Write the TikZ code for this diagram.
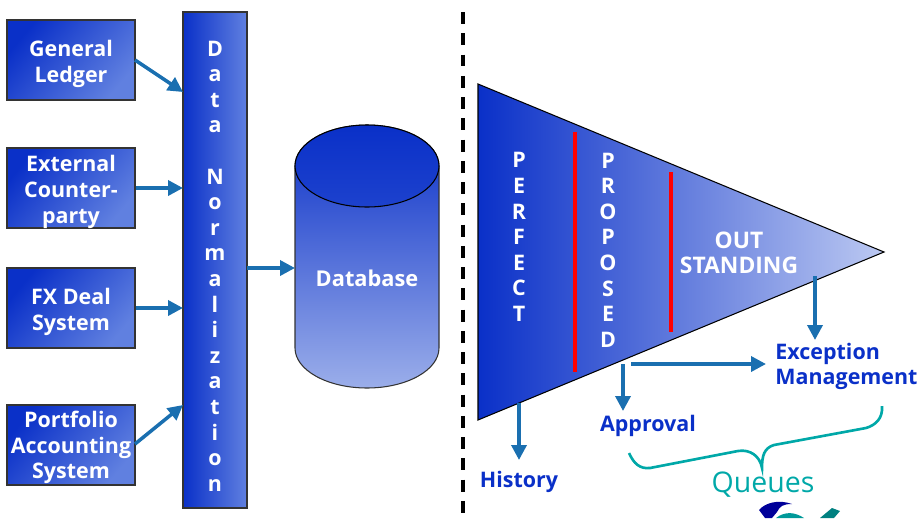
\documentclass[tikz,border=0pt]{standalone}
\usepackage{fontspec}
\setmainfont{Open Sans}
\usetikzlibrary{arrows.meta}
\definecolor{bluedark}{HTML}{0A30C8}
\definecolor{bluemid}{HTML}{6080E0}
\definecolor{bluetri}{HTML}{7A90E2}
\definecolor{bluepale}{HTML}{BCC9F2}
\definecolor{bluebase}{HTML}{9BAEEA}
\definecolor{arrowblue}{HTML}{1A6FB0}
\definecolor{queueteal}{HTML}{00A8A8}
\tikzset{
    srcbox/.style={draw=black!80, line width=0.6pt, left color=bluedark, middle color=bluemid!96!bluedark, right color=bluemid, shading angle=50,
        minimum width=128*0.02cm, minimum height=80*0.02cm, inner sep=0pt},
    srclabel/.style={yshift=-2.3pt, inner sep=0pt, align=center, text=white, font=\bfseries\fontsize{12.2}{14.6}\selectfont},
    lettercol/.style={inner sep=0pt, align=center, text=white, font=\bfseries\fontsize{12.2}{14.57}\selectfont},
    whitelabel/.style={inner sep=0pt, align=center, text=white, font=\bfseries\fontsize{12.4}{14.4}\selectfont},
    bluelabel/.style={inner sep=0pt, align=left, text=bluedark, font=\bfseries\fontsize{12.2}{14.4}\selectfont},
    flow/.style={draw=arrowblue, line width=2pt, -{Triangle[length=8.5pt,width=8.5pt]}},
}
\begin{document}
\begin{tikzpicture}[x=0.02cm, y=-0.02cm]
    \useasboundingbox (0,0) rectangle (920,518);
    % left column
    \node[srcbox] (GL) at (71,60) {};
    \node[srclabel] at (GL) {General\\Ledger};
    \node[srcbox] (EC) at (71,188) {};
    \node[srclabel] at (EC) {External\\Counter-\\party};
    \node[srcbox] (FX) at (71,308) {};
    \node[srclabel] at (FX) {FX Deal\\System};
    \node[srcbox] (PA) at (71,445) {};
    \node[srclabel] at (71,443.5) {Portfolio\\Accounting\\System};
    \node[srcbox, minimum width=64*0.02cm, minimum height=496*0.02cm, shading angle=90] (DN) at (215,260) {};
    \node[lettercol] at (215,266) {D\\a\\t\\a\\[14.57pt]N\\o\\r\\m\\a\\l\\i\\z\\a\\t\\i\\o\\n};
    \coordinate (DNa) at (183,92);
    \coordinate (DNb) at (183,188);
    \coordinate (DNc) at (183,308);
    \coordinate (DNd) at (183,405);
    \draw[flow] (135,60) -- (DNa);
    \draw[flow] (EC.east) -- (DNb);
    \draw[flow] (FX.east) -- (DNc);
    \draw[flow] (135,444) -- (DNd);
    % database
    \shade[top color=bluedark, bottom color=bluebase, draw=black!80, line width=0.6pt]
        (295,166) -- (295,348) arc[start angle=180, end angle=0, x radius=72, y radius=40] -- (439,166)
        arc[start angle=0, end angle=-180, x radius=72, y radius=41] -- cycle;
    \shade[top color=bluedark, bottom color=bluedark!78!bluemid, draw=black, line width=0.6pt]
        (367,166) ellipse[x radius=72, y radius=41];
    \node[whitelabel] (DB) at (367,278) {Database};
    \coordinate (DBw) at (295,268);
    \draw[flow] (247,268) -- (DBw);
    % divider
    \draw[black, line width=2pt, dash pattern=on 6.8pt off 5.3pt] (463,12) -- (463,518);
    % funnel
    \shade[left color=bluedark, middle color=bluetri, right color=bluepale, draw=black, line width=0.6pt]
        (478,84) -- (884,252) -- (478,420) -- cycle;
    \draw[red, line width=2pt] (575,132) -- (575,372);
    \draw[red, line width=2pt] (671,172) -- (671,332);
    \node[lettercol] (PF) at (519,237) {P\\E\\R\\F\\E\\C\\T};
    \node[lettercol] (PP) at (608,250) {P\\R\\O\\P\\O\\S\\E\\D};
    \node[whitelabel, font=\bfseries\fontsize{13}{14.4}\selectfont] (OS) at (739,252.5) {OUT\\STANDING};
    % outcomes
    \node[bluelabel] (EM) at (846.5,366.5) {Exception\\Management};
    \node[bluelabel] (AP) at (648,426) {Approval};
    \node[bluelabel] (HI) at (519,482) {History};
    \coordinate (tH) at (519,403);
    \coordinate (tA) at (623,364);
    \coordinate (tE) at (631,364);
    \coordinate (tO) at (815,276);
    \draw[flow] (tH) -- (519,460);
    \draw[flow] (tA) -- (623,411);
    \draw[flow] (tE) -- (766,364);
    \draw[flow] (tO) -- (815,340);
    % brace
    \draw[queueteal, line width=1.5pt]
        (629,453) .. controls (634,464) and (640,469) .. (650,468) -- (738,451)
        .. controls (750,449) and (760,456) .. (762,468)
        .. controls (762,456) and (764,448) .. (774,445) -- (866,428)
        .. controls (876,425) and (883,418) .. (882,406);
    \node[inner sep=0pt, text=queueteal, font=\fontsize{16.2}{18}\selectfont] (QU) at (763,485) {Queues};
    % logo, cut off by the page
    \fill[blue!60!black] (759,510) .. controls (765,503) and (778,499) .. (792,504) .. controls (783,504) and (780,506) .. (777,512) -- (772,518) -- (765,518) -- cycle;
    \fill[teal!80!cyan] (776,518) .. controls (785,511) and (795,512) .. (804,518) -- cycle;
    \fill[teal] (820,518) -- (832,508) -- (840,511) -- (834,518) -- cycle;
\end{tikzpicture}
\end{document}
